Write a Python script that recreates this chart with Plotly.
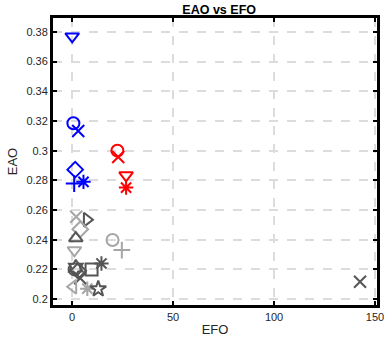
import plotly.graph_objects as go

# EFO / EAO per tracker
efo = [0.0, 0.6, 3.0, 1.5, 1.0, 5.6,
       22.4, 22.8, 26.7, 26.7,
       2.0, 7.3, 4.0, 1.8, 1.1, 20.0, 24.6,
       1.8, 3.0, 1.2, 4.0, 9.6, 14.5,
       0.5, 7.5, 12.9, 142.6]
eao = [0.377, 0.3185, 0.3133, 0.2872, 0.2778, 0.279,
       0.300, 0.2957, 0.2834, 0.2751,
       0.2555, 0.2535, 0.2470, 0.2410, 0.2329, 0.2398, 0.2330,
       0.2212, 0.2190, 0.2200, 0.2140, 0.2200, 0.2240,
       0.2083, 0.2070, 0.2068, 0.2117]

# styles
blue, red, light, dark = "#0000ff", "#ff0000", "#a6a6a6", "#555555"
symbols = ["triangle-down-open", "circle-open", "x-thin-open", "diamond-open", "cross-thin-open", "asterisk-open",
           "circle-open", "x-thin-open", "triangle-down-open", "asterisk-open",
           "x-thin-open", "triangle-right-open", "diamond-open", "triangle-up-open", "triangle-down-open",
           "circle-open", "cross-thin-open",
           "hexagram-open", "diamond-open", "circle-open", "x-thin-open", "square-open", "asterisk-open",
           "triangle-left-open", "asterisk-open", "star-open", "x-thin-open"]
colors = [blue] * 6 + [red] * 4 + [light, dark, light, dark, light, light, light,
                                   dark, dark, dark, dark, dark, dark,
                                   light, light, dark, dark]

fig = go.Figure()
for x, y, s, c in zip(efo, eao, symbols, colors):
    fig.add_trace(go.Scatter(
        x=[x], y=[y], mode="markers",
        marker=dict(symbol=s, size=12, color=c, line=dict(color=c, width=2)),
        showlegend=False,
    ))

axis_style = dict(
    showline=True, mirror="ticks", linecolor="black", linewidth=3,
    ticks="inside", ticklen=4, tickwidth=1.5, tickcolor="black",
    showgrid=True, gridcolor="#dcdcdc", griddash="dash", gridwidth=1.5,
    zeroline=False, tickfont=dict(size=11, color="#262626"), automargin=False,
)

fig.update_xaxes(range=[-9.5, 151], tickvals=[0, 50, 100, 150],
                 title=dict(text="EFO", font=dict(size=13, color="#262626"), standoff=3),
                 **axis_style)
fig.update_yaxes(range=[0.196, 0.3894],
                 tickvals=[0.2, 0.22, 0.24, 0.26, 0.28, 0.3, 0.32, 0.34, 0.36, 0.38],
                 ticktext=["0.2", "0.22", "0.24", "0.26", "0.28", "0.3", "0.32", "0.34", "0.36", "0.38"],
                 title=dict(text="EAO", font=dict(size=13, color="#262626"), standoff=6),
                 **axis_style)

fig.update_layout(
    width=390, height=344,
    margin=dict(l=53, r=13, t=18, b=39),
    paper_bgcolor="white", plot_bgcolor="white",
    font=dict(family="Liberation Sans, Arial, sans-serif"),
    title=dict(text="<b>EAO vs EFO</b>", x=0.562, xanchor="center", y=1 - 10 / 344, yanchor="middle",
               font=dict(size=12.5, color="black")),
)

# drop the default page margin so the figure sits at the top-left corner
fig.write_html("out.html", config={"displayModeBar": False},
               post_script="document.body.style.margin = '0';")
